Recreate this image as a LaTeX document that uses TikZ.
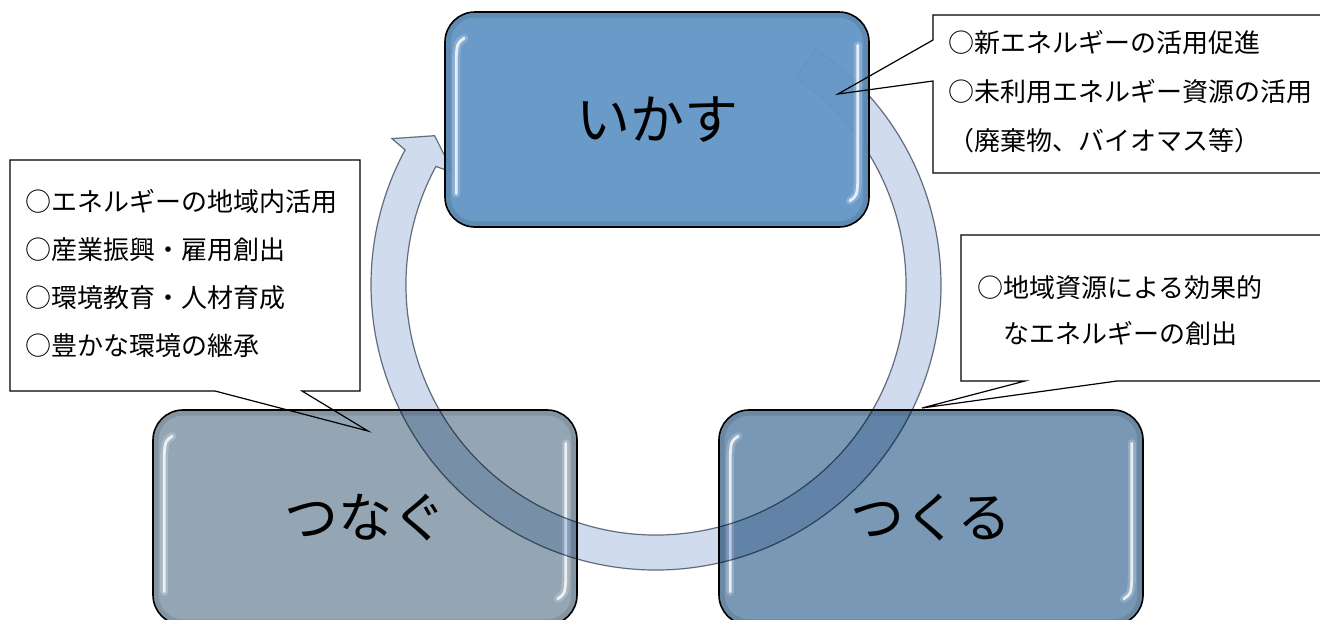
\documentclass[tikz,border=0pt]{standalone}
\usepackage{fontspec}
\newfontfamily\cjk{Noto Sans CJK JP}
\usetikzlibrary{calc}
\definecolor{topblue}{HTML}{6496C5}
\definecolor{leftgray}{HTML}{94A6B4}
\definecolor{rightblue}{HTML}{7898B5}
\definecolor{ringfill}{HTML}{D0DCEE}
\definecolor{ringline}{HTML}{6E7682}
\newcommand\boxgloss[1]{%
  \draw[shade] ($(#1.north west)+(3.5,3.5)$) rectangle ($(#1.south east)+(-3.5,-3.5)$);
  \draw[glow] ($(#1.north west)+(20,27)$) .. controls ($(#1.north west)+(13,32)$) .. ($(#1.north west)+(12,46)$) -- ($(#1.south west)+(12,-34)$);
  \draw[gl] ($(#1.north west)+(20,27)$) .. controls ($(#1.north west)+(13,32)$) .. ($(#1.north west)+(12,46)$) -- ($(#1.south west)+(12,-34)$);
  \draw[glow] ($(#1.north east)+(-12,34)$) -- ($(#1.south east)+(-12,-46)$) .. controls ($(#1.south east)+(-13,-32)$) .. ($(#1.south east)+(-20,-27)$);
  \draw[gl] ($(#1.north east)+(-12,34)$) -- ($(#1.south east)+(-12,-46)$) .. controls ($(#1.south east)+(-13,-32)$) .. ($(#1.south east)+(-20,-27)$);
}
\begin{document}
\begin{tikzpicture}[x=1pt,y=-1pt,
  cyclebox/.style={draw=black, line width=1.6pt, rounded corners=30pt, minimum width=424pt, minimum height=215pt, inner sep=0pt, font=\cjk\fontsize{54}{60}\selectfont},
  gl/.style={draw=white, line width=2.8pt, opacity=0.8, line cap=round},
  glow/.style={draw=white, line width=8pt, opacity=0.2, line cap=round},
  shade/.style={draw=black, opacity=0.10, line width=6pt, rounded corners=27pt},
  ring/.style={fill=ringfill, draw=ringline, line width=1.2pt},
  callout/.style={draw=black, line width=1.2pt, line join=miter},
  item/.style={anchor=west, inner sep=0pt, font=\cjk\fontsize{26}{30}\selectfont}]
\useasboundingbox (0,0) rectangle (1320,619);
\clip (0,0) rectangle (1320,619);
\fill[white] (0,0) rectangle (1320,619);

% bottom boxes
\node[cyclebox, fill=leftgray] (tsunagu) at (365,517.5) {つなぐ};
\boxgloss{tsunagu}
\node[cyclebox, fill=rightblue] (tsukuru) at (931,517.5) {つくる};
\boxgloss{tsukuru}

% circular arrow
\coordinate (c) at (656,285);
\begin{scope}[blend mode=multiply]
\path[ring] ($(c)+(-56:285)$) arc[start angle=-56, end angle=208.3, radius=285]
  -- ($(c)+(209:302)$) -- ($(c)+(214:267)$) -- ($(c)+(209:232)$)
  -- ($(c)+(208.3:250)$) arc[start angle=208.3, end angle=-56, radius=250] -- cycle;
\end{scope}

% top box
\node[cyclebox, fill=topblue, fill opacity=0.96, text opacity=1] (ikasu) at (657,119.5) {いかす};
\boxgloss{ikasu}

% callouts
\coordinate (t1) at (838,94);
\coordinate (t2) at (922,408);
\coordinate (t3) at (368,431);
\draw[callout] (1330,15) -- (933,15) -- (933,40) -- (t1) -- (933,81) -- (933,173) -- (1330,173);
\draw[callout] (1330,235) -- (961,235) -- (961,381) -- (1025,381) -- (t2) -- (1117,381) -- (1330,381);
\draw[callout] (10,160) -- (360,160) -- (360,391) -- (302,391) -- (t3) -- (215,391) -- (10,391) -- cycle;

\node[item] (a1) at (948,43) {○新エネルギーの活用促進};
\node[item] (a2) at (948,92) {○未利用エネルギー資源の活用};
\node[item] (a3) at (948,141) {（廃棄物、バイオマス等）};

\node[item] (b1) at (977,288) {○地域資源による効果的};
\node[item] (b2) at (1003,333) {なエネルギーの創出};

\node[item] (d1) at (25,202) {○エネルギーの地域内活用};
\node[item] (d2) at (25,250) {○産業振興・雇用創出};
\node[item] (d3) at (25,298) {○環境教育・人材育成};
\node[item] (d4) at (25,346) {○豊かな環境の継承};
\end{tikzpicture}
\end{document}
